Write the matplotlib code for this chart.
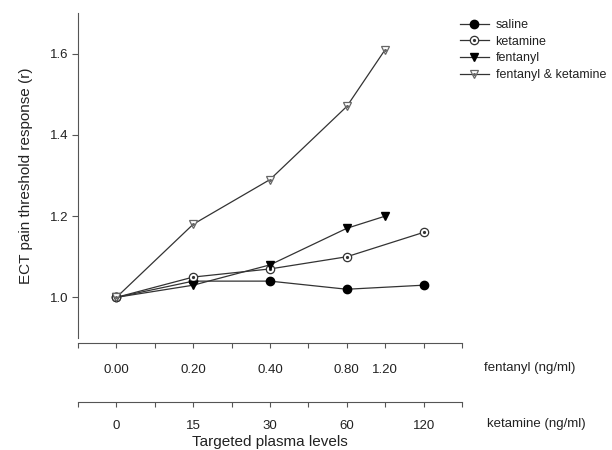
import matplotlib
matplotlib.use('Agg')
import matplotlib.pyplot as plt
from matplotlib.lines import Line2D

plt.rcParams['font.family'] = ['Liberation Sans', 'DejaVu Sans']

# data (x = slot on the shared dose axis, 0..10)
x_pos = [1, 3, 5, 7, 8, 9]
fent_ticklabels = ['', '0.00', '', '0.20', '', '0.40', '', '0.80', '1.20', '', '']
ket_ticklabels = ['', '0', '', '15', '', '30', '', '60', '', '120', '']

saline_x = [1, 3, 5, 7, 9]
saline = [1.00, 1.04, 1.04, 1.02, 1.03]
ketamine_x = [1, 3, 5, 7, 9]
ketamine = [1.00, 1.05, 1.07, 1.10, 1.16]
fentanyl_x = [1, 3, 5, 7, 8]
fentanyl = [1.00, 1.03, 1.08, 1.17, 1.20]
combo_x = [1, 3, 5, 7, 8]
combo = [1.00, 1.18, 1.29, 1.47, 1.61]

line_c = '#333333'
axis_c = '#555555'
text_c = '#222222'

fig = plt.figure(figsize=(6.12, 4.5), dpi=100)
ax = fig.add_axes([78 / 612, 1 - 338 / 450, 384 / 612, 325 / 450])

ms = 6
h1, = ax.plot(saline_x, saline, color=line_c, lw=0.9, marker='o', ms=ms,
              mfc='black', mec='black')
h2, = ax.plot(ketamine_x, ketamine, color=line_c, lw=0.9, marker='o', ms=ms,
              mfc='white', mec=line_c, mew=0.9)
h2d, = ax.plot(ketamine_x, ketamine, ls='none', marker='o', ms=1.3,
               mfc=line_c, mec=line_c)
h3, = ax.plot(fentanyl_x, fentanyl, color=line_c, lw=0.9, marker='v', ms=ms,
              mfc='black', mec='black')
h4, = ax.plot(combo_x, combo, color=line_c, lw=0.9, marker='v', ms=ms,
              mfc='white', mec='#666666', mew=0.9)
h4d, = ax.plot(combo_x, combo, ls='none', marker='o', ms=1.2,
               mfc='#666666', mec='#666666')

ax.set_xlim(0, 10)
ax.set_ylim(0.9, 1.7)
ax.set_yticks([1.0, 1.2, 1.4, 1.6])
ax.set_yticklabels(['1.0', '1.2', '1.4', '1.6'])
ax.set_xticks([])
for s in ['top', 'right', 'bottom']:
    ax.spines[s].set_visible(False)
ax.spines['left'].set_color(axis_c)
ax.tick_params(axis='y', direction='out', length=4, color=axis_c,
               labelsize=9.5, labelcolor=text_c, pad=3)
ax.set_ylabel('ECT pain threshold response (r)', fontsize=11, color=text_c,
              labelpad=12)

# fentanyl axis
sec1 = ax.secondary_xaxis(-0.0154)
sec1.set_xticks(range(11))
sec1.set_xticklabels(fent_ticklabels)
sec1.spines['bottom'].set_color(axis_c)
sec1.tick_params(direction='out', length=3.5, color=axis_c, labelsize=9.5,
                 labelcolor=text_c, pad=11.5)

# ketamine axis
sec2 = ax.secondary_xaxis(-0.197)
sec2.set_xticks(range(11))
sec2.set_xticklabels(ket_ticklabels)
sec2.spines['bottom'].set_color(axis_c)
sec2.tick_params(direction='out', length=3.5, color=axis_c, labelsize=9.5,
                 labelcolor=text_c, pad=9.5)

fig.text(530 / 612, 1 - 368 / 450, 'fentanyl (ng/ml)', ha='center', va='center',
         fontsize=9.5, color=text_c)
fig.text(536 / 612, 1 - 424 / 450, 'ketamine (ng/ml)', ha='center', va='center',
         fontsize=9.5, color=text_c)
fig.text(270 / 612, 1 - 442 / 450, 'Targeted plasma levels', ha='center',
         va='center', fontsize=11, color=text_c)

leg = fig.legend([h1, (h2, h2d), h3, (h4, h4d)],
                 ['saline', 'ketamine', 'fentanyl', 'fentanyl & ketamine'],
                 loc='upper left', bbox_to_anchor=(460 / 612, 1 - 19 / 450),
                 frameon=False, fontsize=9, handlelength=2.3, handletextpad=0.55,
                 labelspacing=0.38, borderaxespad=0, borderpad=0)
for t in leg.get_texts():
    t.set_color(text_c)

fig.savefig('out.png', dpi=100)
